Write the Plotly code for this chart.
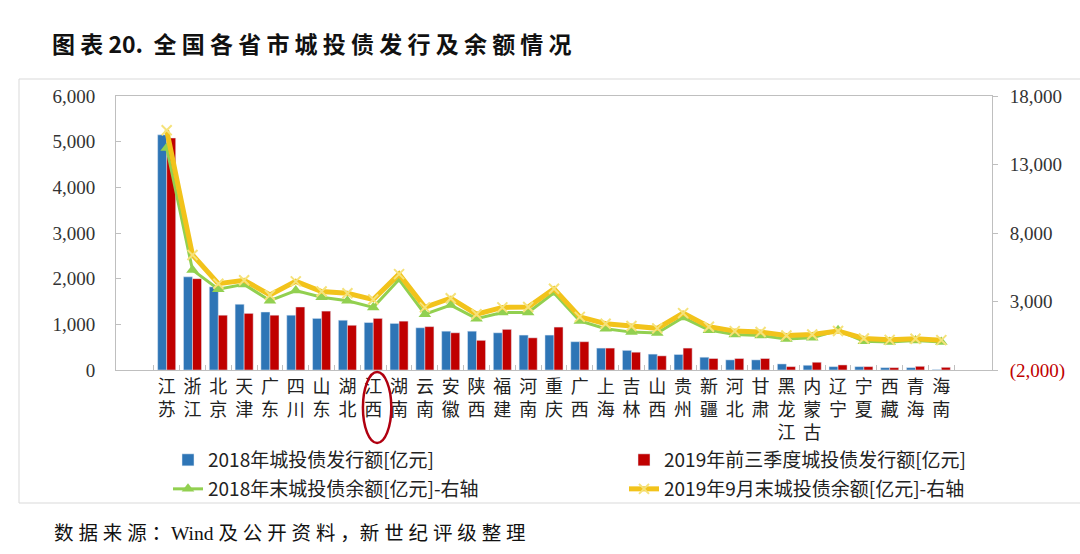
import plotly.graph_objects as go

provinces = ["江苏", "浙江", "北京", "天津", "广东", "四川", "山东", "湖北", "江西", "湖南",
             "云南", "安徽", "陕西", "福建", "河南", "重庆", "广西", "上海", "吉林", "山西",
             "贵州", "新疆", "河北", "甘肃", "黑龙江", "内蒙古", "辽宁", "宁夏", "西藏", "青海", "海南"]

issue_2018 = [5150, 2040, 1820, 1440, 1270, 1200, 1130, 1090, 1040, 1020,
              925, 850, 850, 815, 765, 765, 620, 480, 430, 348,
              340, 280, 222, 222, 133, 104, 74, 74, 52, 52, 10]

issue_2019q3 = [5080, 2000, 1200, 1240, 1200, 1380, 1290, 980, 1130, 1070,
                950, 815, 650, 890, 705, 940, 620, 480, 390, 310,
                480, 252, 252, 252, 74, 170, 111, 74, 52, 81, 59]

balance_2018 = [14200, 5300, 3900, 4250, 3060, 3800, 3310, 3060, 2570, 4600,
                2070, 2740, 1750, 2200, 2200, 3630, 1580, 1010, 765, 700,
                1830, 910, 590, 520, 270, 350, 900, 100, 50, 150, 50]

balance_2019sep = [15500, 6400, 4300, 4550, 3480, 4470, 3730, 3600, 3140, 5000,
                   2570, 3240, 2070, 2570, 2600, 3930, 1880, 1380, 1210, 1040,
                   2150, 1160, 840, 770, 520, 590, 850, 300, 200, 280, 180]

left_ticks = [0, 1000, 2000, 3000, 4000, 5000, 6000]
right_ticks = [-2000, 3000, 8000, 13000, 18000]
right_ticktext = ["<span style='color:#C00000'>(2,000)</span>", "3,000", "8,000", "13,000", "18,000"]

names = ["2018年城投债发行额[亿元]", "2019年前三季度城投债发行额[亿元]",
         "2018年末城投债余额[亿元]-右轴", "2019年9月末城投债余额[亿元]-右轴"]

title_text = "图表20. 全国各省市城投债发行及余额情况"
source_text = "数据来源：Wind 及公开资料，新世纪评级整理"

W, H = 1080, 554
L, R, T, B = 116, 88, 96, 184
pw, ph = W - L - R, H - T - B

def px_x(x):
    return (x - L) / pw

def px_y(y):
    return (H - B - y) / ph

fig = go.Figure()
fig.add_trace(go.Bar(x=provinces, y=issue_2018, name=names[0], marker_color="#2E75B6",
                     legend="legend"))
fig.add_trace(go.Bar(x=provinces, y=issue_2019q3, name=names[1], marker_color="#C00000",
                     legend="legend2"))
fig.add_trace(go.Scatter(x=provinces, y=balance_2018, name=names[2], yaxis="y2",
                         mode="lines+markers", line=dict(color="#92D050", width=3),
                         marker=dict(symbol="triangle-up", size=11, color="#92D050"),
                         legend="legend3"))
fig.add_trace(go.Scatter(x=provinces, y=balance_2019sep, name=names[3], yaxis="y2",
                         mode="lines+markers", line=dict(color="#F2C31B", width=5),
                         marker=dict(symbol="x-thin", size=10, line=dict(color="#F5E27A", width=2),
                                     color="#F5E27A"),
                         legend="legend4"))

num_font = dict(family="Liberation Serif, Times New Roman, serif", size=19, color="#333333")
cjk = "Noto Sans CJK SC"

spaced_title = "图 表 20.  全 国 各 省 市 城 投 债 发 行 及 余 额 情 况"
spaced_source = "数 据 来 源 ：Wind 及 公 开 资 料 ，新 世 纪 评 级 整 理"

legend_common = dict(orientation="h", xanchor="left", yanchor="top",
                     bgcolor="rgba(0,0,0,0)",
                     font=dict(family=cjk, size=19, color="#222222"))

fig.update_layout(
    width=W, height=H,
    margin=dict(l=L, r=R, t=T, b=B),
    paper_bgcolor="white", plot_bgcolor="white",
    barmode="group", bargap=0.3, bargroupgap=0.0,
    title=dict(text=spaced_title, x=52 / W, xanchor="left", y=1 - 45 / H, yanchor="middle",
               font=dict(family=cjk, size=23, color="#111111", weight="bold")),
    xaxis=dict(type="category", categoryorder="array", categoryarray=provinces,
               tickvals=provinces, ticktext=["<br>".join(p) for p in provinces],
               tickangle=0,
               tickfont=dict(family=cjk, size=18, color="#222222"),
               ticks="inside", tickson="boundaries", ticklen=5, tickcolor="#BFBFBF",
               showline=True, linecolor="#BFBFBF", linewidth=1, mirror=True,
               showgrid=False, zeroline=False),
    yaxis=dict(range=[0, 6000], tickvals=left_ticks, tickformat=",", tickfont=num_font,
               ticks="inside", ticklen=5, tickcolor="#BFBFBF",
               showline=True, linecolor="#BFBFBF", linewidth=1, mirror=True,
               showgrid=False, zeroline=False, ticklabelstandoff=16),
    yaxis2=dict(range=[-2000, 18000], overlaying="y", side="right",
                tickvals=right_ticks, ticktext=right_ticktext, tickfont=num_font,
                ticks="outside", ticklen=5, tickcolor="#BFBFBF",
                showline=True, linecolor="#BFBFBF", linewidth=1,
                showgrid=False, zeroline=False, ticklabelstandoff=8),
    legend=dict(x=px_x(168), y=px_y(441), **legend_common),
    legend2=dict(x=px_x(624), y=px_y(441), **legend_common),
    legend3=dict(x=px_x(168), y=px_y(470), **legend_common),
    legend4=dict(x=px_x(624), y=px_y(470), **legend_common),
    showlegend=True,
)

fig.add_shape(type="rect", xref="paper", yref="paper",
              x0=px_x(19), x1=px_x(1090), y0=px_y(503), y1=px_y(79),
              line=dict(color="#D9D9D9", width=1), layer="below")
fig.add_shape(type="circle", xref="x", yref="paper",
              x0=7.6, x1=8.7, y0=px_y(443), y1=px_y(372),
              line=dict(color="#B00010", width=2.5))

fig.add_annotation(text=spaced_source, xref="paper", yref="paper", x=px_x(52), y=px_y(533),
                   xanchor="left", yanchor="middle", showarrow=False,
                   font=dict(family="Liberation Serif, " + cjk, size=19.5, color="#111111"))

fig.write_html("out.html")
